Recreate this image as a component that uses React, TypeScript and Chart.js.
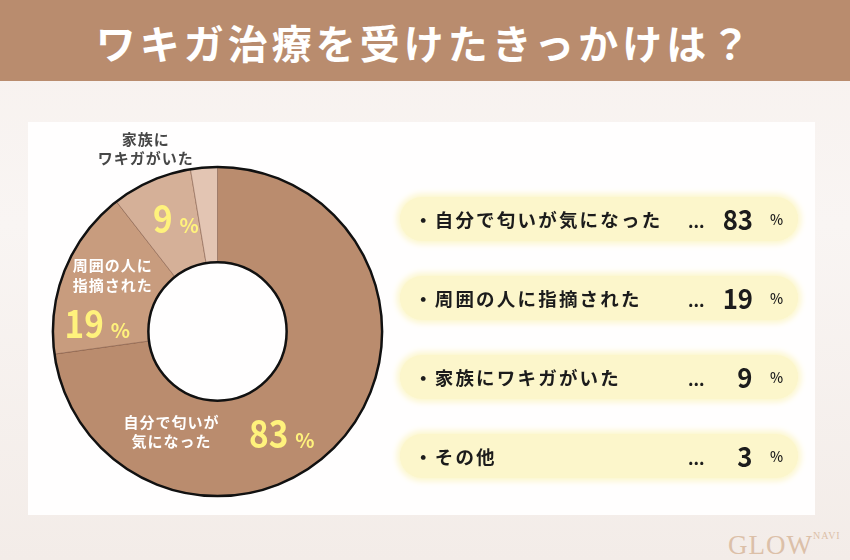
import React, { useEffect, useRef } from "react";
import { Chart, registerables } from "chart.js";

Chart.register(...registerables);

const TITLE = "ワキガ治療を受けたきっかけは？";
const categories = ["自分で匂いが気になった", "周囲の人に指摘された", "家族にワキガがいた", "その他"];
const values = [83, 19, 9, 3];
const sliceNameLines = [["自分で匂いが", "気になった"], ["周囲の人に", "指摘された"], ["家族に", "ワキガがいた"], []];
const unit = "%";

const sliceColors = ["#ba8c6e", "#c89c7e", "#d5b098", "#e3c5b3"];
const FONT = '"Noto Sans CJK JP", "Noto Sans", sans-serif';

// label placement relative to the doughnut centre, in px for a 165px outer radius
const labelLayout = [
  { numX: 71, numY: 117, nameX: -46, nameY: 91, nameColor: "#ffffff", showNum: true },
  { numX: -114, numY: 7, nameX: -105, nameY: -66, nameColor: "#ffffff", showNum: true },
  { numX: -45, numY: -99, nameX: -72, nameY: -193, nameColor: "#474747", showNum: true },
  { numX: 0, numY: 0, nameX: 0, nameY: 0, nameColor: "#fff", showNum: false },
];

const ringPlugin = {
  id: "ringAndLabels",
  afterDatasetsDraw(chart: any) {
    const meta = chart.getDatasetMeta(0);
    const arc0 = meta.data[0];
    if (!arc0) return;
    const { x: cx, y: cy, outerRadius, innerRadius } = arc0;
    const ctx = chart.ctx;
    ctx.save();
    ctx.strokeStyle = "#111";
    ctx.lineWidth = 2.5;
    ctx.beginPath();
    ctx.arc(cx, cy, outerRadius, 0, Math.PI * 2);
    ctx.stroke();
    ctx.beginPath();
    ctx.arc(cx, cy, innerRadius, 0, Math.PI * 2);
    ctx.stroke();

    const s = outerRadius / 165;
    const data = chart.data.datasets[0].data as number[];
    data.forEach((v, i) => {
      const L = labelLayout[i];
      if (L.showNum) {
        ctx.fillStyle = "#fff27c";
        ctx.textBaseline = "alphabetic";
        const nx = cx + L.numX * s;
        const ny = cy + L.numY * s;
        ctx.save();
        ctx.translate(nx, ny);
        ctx.scale(0.9, 1.03);
        ctx.textAlign = "right";
        ctx.font = `bold 37px ${FONT}`;
        ctx.fillText(String(v), 0, 0);
        ctx.restore();
        ctx.textAlign = "left";
        ctx.font = `bold 20px ${FONT}`;
        ctx.fillText(unit, nx + 7, ny);
      }
      const lines = sliceNameLines[i];
      ctx.fillStyle = L.nameColor;
      ctx.font = `bold 15px ${FONT}`;
      ctx.textAlign = "center";
      ctx.textBaseline = "middle";
      (ctx as any).letterSpacing = "1px";
      lines.forEach((t, k) => {
        ctx.fillText(t, cx + L.nameX * s, cy + L.nameY * s + k * 19.5);
      });
      (ctx as any).letterSpacing = "0px";
    });
    ctx.restore();
  },
};

function Doughnut() {
  const ref = useRef<HTMLCanvasElement | null>(null);
  useEffect(() => {
    if (!ref.current) return;
    const chart = new Chart(ref.current, {
      type: "doughnut",
      data: {
        labels: categories,
        datasets: [
          {
            data: values,
            backgroundColor: sliceColors,
            borderColor: "rgba(110,70,50,0.55)",
            borderWidth: 0.8,
          },
        ],
      },
      options: {
        animation: false,
        responsive: false,
        maintainAspectRatio: false,
        cutout: "42%",
        rotation: 0,
        layout: { padding: { left: 12.5, right: 17.5, top: 56.5, bottom: 33.5 } },
        plugins: { legend: { display: false }, tooltip: { enabled: false } },
      },
      plugins: [ringPlugin],
    });
    return () => chart.destroy();
  }, []);
  return (
    <canvas
      ref={ref}
      width={360}
      height={420}
      style={{ position: "absolute", left: 40, top: 110, width: 360, height: 420 }}
    />
  );
}

const pillCenters = [219, 298, 377, 456];

export default function App() {
  return (
    <div
      style={{
        position: "fixed",
        left: 0,
        top: 0,
        width: 850,
        height: 560,
        overflow: "hidden",
        fontFamily: FONT,
        background: "linear-gradient(180deg, #f7f1ee 0%, #f9f5f3 40%, #f3ece8 100%)",
      }}
    >
      <div
        style={{
          position: "absolute",
          left: 28,
          top: 122,
          width: 787,
          height: 393,
          background: "#fffefe",
        }}
      />
      <div
        style={{
          position: "absolute",
          left: 0,
          top: 0,
          width: 850,
          height: 81,
          background: "#b98c6e",
          color: "#ffffff",
          fontWeight: 700,
          fontSize: 40,
          letterSpacing: 4,
          lineHeight: "84px",
          textAlign: "center",
        }}
      >
        {TITLE}
      </div>
      <Doughnut />
      {categories.map((c, i) => (
        <div
          key={c}
          style={{
            position: "absolute",
            left: 400,
            top: pillCenters[i] - 22,
            width: 398,
            height: 44,
            borderRadius: 22,
            background: "#fcf6cb",
            boxShadow: "0 0 6px 3px #fcf6cb",
            color: "#1c1c1c",
            fontWeight: 700,
            lineHeight: "44px",
          }}
        >
          <span style={{ position: "absolute", left: 14, fontSize: 18.5, letterSpacing: 2.2 }}>
            {"・" + c}
          </span>
          <span style={{ position: "absolute", left: 288, fontSize: 17, letterSpacing: 0, top: 2 }}>...</span>
          <span
            style={{
              position: "absolute",
              right: 45,
              fontSize: 28,
              lineHeight: "42px",
              transform: "scaleX(0.92)",
              transformOrigin: "right center",
            }}
          >
            {values[i]}
          </span>
          <span style={{ position: "absolute", left: 370, fontSize: 14, fontWeight: 500 }}>{unit}</span>
        </div>
      ))}
      <div
        style={{
          position: "absolute",
          left: 728,
          top: 530,
          color: "#dcc0a8",
          fontFamily: '"Liberation Serif", serif',
          fontSize: 27,
          letterSpacing: 1,
          lineHeight: "30px",
        }}
      >
        GLOW
        <span style={{ fontSize: 10, verticalAlign: "top", lineHeight: "12px" }}>NAVI</span>
      </div>
    </div>
  );
}
